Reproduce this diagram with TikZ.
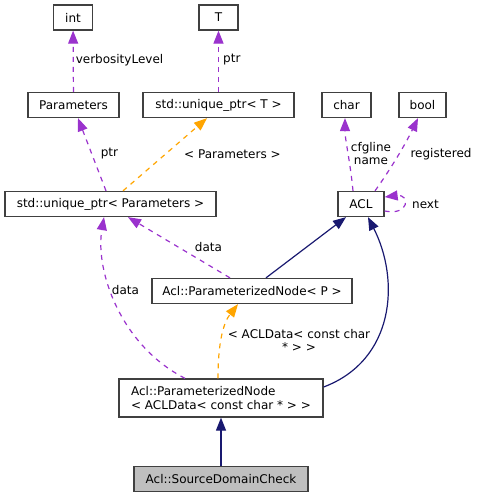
\documentclass[tikz,border=0pt]{standalone}
\usepackage{fontspec}
\setmainfont{DejaVu Sans}
\usetikzlibrary{arrows.meta}
\definecolor{usecol}{HTML}{9A32CD}
\definecolor{tmplcol}{HTML}{FFA500}
\definecolor{inhcol}{HTML}{191970}
\begin{document}
\begin{tikzpicture}[x=1pt, y=-1pt,
    cls/.style={draw=black!75, line width=1.3pt, fill=white, shape=rectangle, minimum height=25pt, inner sep=0pt, font=\fontsize{12}{14}\selectfont},
    cur/.style={cls, fill=black!25},
    lbl/.style={inner sep=0pt, align=center, font=\fontsize{12}{13}\selectfont},
    member/.style={-{Triangle[length=13pt, width=10pt]}, usecol, line width=1.2pt, dash pattern=on 5pt off 5pt},
    tmpl/.style={-{Triangle[length=13pt, width=10pt]}, tmplcol, line width=1.2pt, dash pattern=on 5pt off 5pt},
    inherit/.style={-{Triangle[length=13pt, width=10pt]}, inhcol, line width=1.2pt}]
  \useasboundingbox (0,0) rectangle (477,497);

  % classes
  \node[cls, minimum width=39pt] (int) at (73,17.5) {int};
  \node[cls, minimum width=39pt] (T) at (218.5,17.5) {T};

  \node[cls, minimum width=91pt] (params) at (73.5,105) {Parameters};
  \node[cls, minimum width=151pt] (uniqT) at (218.5,105) {std::unique\_ptr< T >};
  \node[cls, minimum width=49pt] (char) at (346.5,105) {char};
  \node[cls, minimum width=47pt] (bool) at (422.5,105) {bool};

  \node[cls, minimum width=211pt] (uniqP) at (110.5,204) {std::unique\_ptr< Parameters >};
  \node[cls, minimum width=46pt] (acl) at (361,204) {ACL};

  \node[cls, minimum width=200pt] (pnodeP) at (252,291) {Acl::ParameterizedNode< P >};
  \node[cls, minimum width=204pt, minimum height=38pt, align=left] (pnodeA) at (221,398)
    {Acl::ParameterizedNode\\< ACLData< const char * > >};

  \node[cur, minimum width=174pt] (sdc) at (221,479) {Acl::SourceDomainCheck};

  % members
  \draw[member] (params) -- (int);
  \draw[member] (uniqT) -- (T);
  \draw[member] ([xshift=-4.5pt]uniqP.north) -- ([xshift=4.5pt]params.south);
  \draw[member] ([xshift=-8pt]acl.north) .. controls (350,160) and (345,140) .. ([xshift=-1.5pt]char.south);
  \draw[member] ([xshift=14pt]acl.north) .. controls (390,170) and (405,145) .. ([xshift=-4.5pt]bool.south);
  \draw[member] ([yshift=-7pt]acl.east) .. controls (410,216) and (410,194) .. ([yshift=7pt]acl.east);
  \draw[member] ([xshift=-22pt]pnodeP.north) -- ([xshift=17.5pt]uniqP.south);
  \draw[member] ([xshift=-36pt]pnodeA.north) .. controls (120,345) and (95,270) .. ([xshift=-6.5pt]uniqP.south);

  % templates
  \draw[tmpl] ([xshift=12.5pt]uniqP.north) -- ([xshift=-11.5pt]uniqT.south);
  \draw[tmpl] ([xshift=-3pt]pnodeA.north) .. controls (218,340) and (224,322) .. ([xshift=-14pt]pnodeP.south);

  % inheritance
  \draw[inherit] ([xshift=14pt]pnodeP.north) -- ([xshift=-15pt]acl.south);
  \draw[inherit] ([yshift=11pt]pnodeA.east) .. controls (395,360) and (400,280) .. ([xshift=7pt]acl.south);
  \draw[inherit] (sdc) -- (pnodeA);

  % labels
  \node[lbl] (lverb) at (119.5,60) {verbosityLevel};
  \node[lbl, anchor=west] (lptrT) at (223,60) {ptr};
  \node[lbl] (lptrP) at (109.5,154) {ptr};
  \node[lbl, anchor=west] (lparam) at (184,154) {< Parameters >};
  \node[lbl] (lcfg) at (371,153.5) {cfgline\\name};
  \node[lbl] (lreg) at (441,154) {registered};
  \node[lbl, anchor=west] (lnext) at (412,204) {next};
  \node[lbl] (ldata1) at (208.5,247) {data};
  \node[lbl] (ldata2) at (125.5,290) {data};
  \node[lbl] (lacld) at (299,340) {< ACLData< const char\\* > >};
\end{tikzpicture}
\end{document}
